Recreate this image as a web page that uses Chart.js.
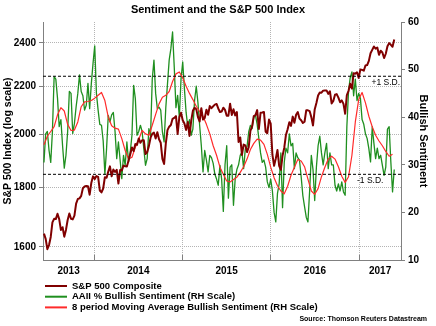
<!DOCTYPE html>
<html>
<head>
<meta charset="utf-8">
<script src="https://cdn.jsdelivr.net/npm/chart.js@4/dist/chart.umd.min.js"></script>
<style>
  html, body { margin: 0; padding: 0; background: #fff; }
</style>
</head>
<body>
<canvas id="grafico" width="436" height="326"></canvas>
<script>
const titulo = "Sentiment and the S&P 500 Index";
const fonte = "Source: Thomson Reuters Datastream";

// weekly observations (Fridays), first one 7 Jun 2013
const primeiraSemana = Date.UTC(2013, 5, 7);
const semana = 7 * 86400000;

const sp500 = [
  1643, 1626, 1593, 1606, 1632, 1680, 1692, 1691, 1709, 1691, 1655, 1664, 1633, 1655, 1688, 1710, 1692, 1690, 1703, 1744, 1760, 1762, 1771, 1798, 1804, 1806, 1805, 1775, 1818, 1841,
  1831, 1842, 1839, 1790, 1783, 1797, 1838, 1836, 1859, 1878, 1841, 1866, 1857, 1865, 1815, 1864, 1863, 1881, 1878, 1877, 1900, 1924, 1950, 1936, 1963, 1960,
  1985, 1968, 1978, 1978, 1925, 1931, 1955, 1988, 2003, 2008, 1985, 2010, 1982, 1968, 1906, 1887, 1965, 2018, 2032, 2039, 2064, 2068, 2075, 2003, 2071, 2089,
  2058, 2045, 2019, 2051, 1995, 2055, 2097, 2110, 2104, 2071, 2053, 2108, 2061, 2067, 2102, 2081, 2117, 2108, 2116, 2123, 2126, 2107, 2092, 2094, 2110, 2101,
  2077, 2077, 2127, 2080, 2104, 2078, 2092, 1971, 1989, 1921, 1961, 1958, 1932, 1951, 2015, 2033, 2075, 2079, 2100, 2023, 2089, 2090, 2092, 2012, 2006, 2061, 2044,
  1922, 1880, 1907, 1940, 1880, 1865, 1918, 1948, 1999, 2022, 2050, 2035, 2073, 2048, 2081, 2092, 2065, 2058, 2047, 2052, 2099, 2099, 2096, 2071, 2037,
  2103, 2130, 2162, 2175, 2174, 2183, 2184, 2184, 2169, 2180, 2128, 2139, 2165, 2168, 2153, 2133, 2141, 2126, 2085, 2164, 2182, 2213, 2192, 2260, 2258, 2264, 2239,
  2277, 2275, 2271, 2295, 2297, 2316, 2351, 2367, 2383, 2373, 2378, 2344, 2363, 2355, 2329, 2349, 2384, 2399, 2391, 2382, 2416
];

const otimismo = [
  30.5, 36.5, 37, 33, 30.5, 37, 48.5, 48, 44, 38,
  39.5, 34, 29.3, 32, 37, 45.4, 45, 36.6, 38.7, 42.2,
  45, 48.9, 45.4, 44.5, 41.5, 42.5, 47.1, 41.8, 47.1, 51.3,
  55, 45, 41.5, 38.5, 38.3, 35, 28, 33.4, 40.4, 39,
  40.5, 41, 37, 31.3, 34.8, 31, 27.1, 32, 29.9, 34.8,
  30.6, 32.7, 36.2, 46.7, 43.9, 36.2, 37, 38.3, 37, 33.4,
  29.9, 31.3, 37.6, 36.2, 48, 52, 45, 41.8, 42.1, 41.5,
  36.9, 34.8, 42, 47, 52, 54.4, 57.9, 50.5, 42, 44.6,
  40, 48, 51.6, 46, 41, 38, 39.5, 36.2, 37.5, 43.5,
  46.5, 43, 38.3, 34, 28.5, 33, 31, 28.5, 32, 31.5,
  30.3, 28, 27, 25.7, 29.9, 27, 20.2, 30, 34, 23,
  29.5, 30, 21.5, 27, 29, 30, 32, 32.7, 29.2, 33.4,
  33.8, 36.9, 38.3, 37.6, 40, 40.4, 38.5, 35.5, 32.5, 30.5,
  31, 29.5, 26.4, 25.2, 27, 24.5, 20, 18, 24, 26,
  32.5, 21, 30.5, 33.5, 32.5, 36.5, 34, 34.5, 29.2, 32.5,
  31.5, 31, 27.5, 23.5, 21.2, 19, 18, 24.5, 32, 29,
  22.5, 29.5, 34, 36, 32.5, 30, 32.5, 34.5, 29.2, 32.5,
  30, 30, 25.7, 24.5, 26, 24.5, 26.4, 24.3, 23.6, 38,
  45.5, 48.3, 49.5, 44.5, 48, 43.5, 45, 44, 39.5, 38.5,
  36.5, 35.5, 33.4, 30.6, 38, 34.5, 31.3, 33.5, 31.3, 32,
  29.9, 27.8, 29.5, 37.5, 38, 30.6, 24.3, 29
];

// moving average read every second week
const media8 = [
  34.2, 36, 37, 38, 40.5, 42, 41.3, 38.5, 37.2, 37.3,
  39, 42.2, 43.2, 43.3, 43.5, 44, 44.6, 45.2, 43.5, 40,
  38.2, 37.7, 37.5, 35.5, 33, 31.2, 31.6, 33.7, 35.3, 37.2,
  36.5, 36.2, 38.3, 40.6, 42.8, 44.2, 44.6, 45.4, 47.5, 49.1,
  49.5, 48.3, 46.5, 45, 43.7, 42.3, 41.2, 40.2, 38.5, 36.5,
  34, 32, 29.5, 28, 26.6, 26.4, 26.9, 27.4, 28.4, 29.6,
  31.2, 33.2, 34.5, 35.4, 35.2, 34.3, 32.2, 29.5, 27.3, 25.6,
  24.5, 23.9, 25.5, 27.8, 29.5, 31.1, 30.8, 29.6, 27, 24.5,
  23.8, 25, 27.5, 29.5, 31.2, 31.8, 31.2, 29.6, 27.6, 26.3,
  27.5, 32, 39, 43.7, 45.2, 43, 40.2, 38, 36.2, 35,
  34, 32.8, 31.8, 32.2
];

const desvios = [48.6, 28.0];
const rotulosDesvio = ["+1 S.D.", "-1 S.D."];

const anos = ["2013", "2014", "2015", "2016", "2017"];
const ticksSp = [1600, 1800, 2000, 2200, 2400];
const ticksOtimismo = [10, 20, 30, 40, 50, 60];

const xMin = Date.UTC(2013, 5, 3);
const xMax = Date.UTC(2017, 5, 23);
const inicioAno = [2014, 2015, 2016, 2017].map(a => Date.UTC(a, 0, 1));
const limites = [xMin, ...inicioAno, xMax];
const posAnos = anos.map((a, i) => (limites[i] + limites[i + 1]) / 2);

const dataSemana = i => primeiraSemana + i * semana;

const corSp = "#800000";
const corVerde = "#1f8f1f";
const corVermelho = "#ff2b2b";
const corEixo = "#808080";
const corGrade = "#b4b4b4";
const fam = '"Liberation Sans", Arial, sans-serif';

const textos = {
  id: "textos",
  afterDraw(chart) {
    const c = chart.ctx;
    c.save();
    c.fillStyle = "#000";
    c.textBaseline = "middle";

    c.textAlign = "center";
    c.font = "bold 11px " + fam;
    c.fillText(titulo, 218, 10);

    // S.D. labels under the dashed lines
    const y1 = chart.scales.y1;
    c.font = "8.5px " + fam;
    c.textAlign = "right";
    c.fillText(rotulosDesvio[0], 400, y1.getPixelForValue(desvios[0]) + 6);
    c.textAlign = "left";
    c.fillText(rotulosDesvio[1], 357, y1.getPixelForValue(desvios[1]) + 6);

    // legend
    c.font = "bold 9.5px " + fam;
    chart.data.datasets.slice(0, 3).forEach((ds, i) => {
      const y = 286 + i * 10.7;
      c.strokeStyle = ds.borderColor;
      c.lineWidth = 2;
      c.beginPath();
      c.moveTo(45, y);
      c.lineTo(67, y);
      c.stroke();
      c.fillText(ds.label, 72, y);
    });

    c.textAlign = "right";
    c.font = "bold 7px " + fam;
    c.fillText(fonte, 427, 319);
    c.restore();
  }
};

new Chart(document.getElementById("grafico").getContext("2d"), {
  type: "line",
  data: {
    datasets: [
      {
        label: "S&P 500 Composite",
        data: sp500.map((v, i) => ({ x: dataSemana(i), y: v })),
        borderColor: corSp,
        borderWidth: 2,
        yAxisID: "y",
        order: 1
      },
      {
        label: "AAII % Bullish Sentiment (RH Scale)",
        data: otimismo.map((v, i) => ({ x: dataSemana(i), y: v })),
        borderColor: corVerde,
        borderWidth: 1.3,
        yAxisID: "y1",
        order: 3
      },
      {
        label: "8 period Moving Average Bullish Sentiment (RH Scale)",
        data: media8.map((v, i) => ({ x: dataSemana(i * 2), y: v })),
        borderColor: corVermelho,
        borderWidth: 1.2,
        yAxisID: "y1",
        order: 2
      },
      ...desvios.map(d => ({
        label: "",
        data: [{ x: xMin, y: d }, { x: xMax, y: d }],
        borderColor: "#000",
        borderWidth: 1,
        borderDash: [3, 2],
        yAxisID: "y1",
        order: 0
      }))
    ]
  },
  options: {
    responsive: false,
    animation: false,
    layout: { padding: { top: 22, bottom: 46, left: 0, right: 0 } },
    elements: { point: { radius: 0 }, line: { tension: 0, borderJoinStyle: "round" } },
    plugins: { legend: { display: false }, title: { display: false }, tooltip: { enabled: false } },
    scales: {
      x: {
        type: "linear",
        position: "bottom",
        min: xMin,
        max: xMax,
        afterBuildTicks: s => {
          s.ticks = [...inicioAno, ...posAnos].sort((a, b) => a - b).map(v => ({ value: v }));
        },
        afterFit: s => { s.height = 20; },
        ticks: {
          autoSkip: false,
          maxRotation: 0,
          padding: 10,
          color: "#000",
          font: { family: fam, size: 10, weight: "bold" },
          callback: v => {
            const i = posAnos.indexOf(v);
            return i >= 0 ? anos[i] : "";
          }
        },
        grid: {
          color: c => (c.tick && inicioAno.includes(c.tick.value) ? corGrade : "rgba(0,0,0,0)"),
          tickColor: c => (c.tick && inicioAno.includes(c.tick.value) ? corEixo : "rgba(0,0,0,0)"),
          tickLength: -5
        },
        border: { color: corEixo, dash: [1, 1] }
      },
      y: {
        type: "logarithmic",
        position: "left",
        min: 1559,
        max: 2502,
        afterBuildTicks: s => { s.ticks = ticksSp.map(v => ({ value: v })); },
        afterFit: s => { s.width = 43; },
        ticks: {
          padding: 3,
          color: "#000",
          font: { family: fam, size: 10, weight: "bold" },
          callback: v => String(v)
        },
        grid: { color: corGrade, tickColor: corEixo, tickLength: 4 },
        border: { color: corEixo, dash: [1, 1] },
        title: {
          display: true,
          text: "S&P 500 Index (log scale)",
          color: "#000",
          font: { family: fam, size: 10.5, weight: "bold" },
          padding: { top: 2, bottom: 0 }
        }
      },
      y1: {
        type: "linear",
        position: "right",
        min: 10,
        max: 60,
        afterBuildTicks: s => { s.ticks = ticksOtimismo.map(v => ({ value: v })); },
        afterFit: s => { s.width = 35; },
        ticks: {
          padding: 3,
          color: "#000",
          font: { family: fam, size: 10, weight: "bold" }
        },
        grid: { drawOnChartArea: false, tickColor: corEixo, tickLength: 4 },
        border: { color: corEixo },
        title: {
          display: true,
          text: "Bullish Sentiment",
          color: "#000",
          font: { family: fam, size: 11, weight: "bold" },
          padding: { top: 6, bottom: 0 }
        }
      }
    }
  },
  plugins: [textos]
});
</script>
</body>
</html>
